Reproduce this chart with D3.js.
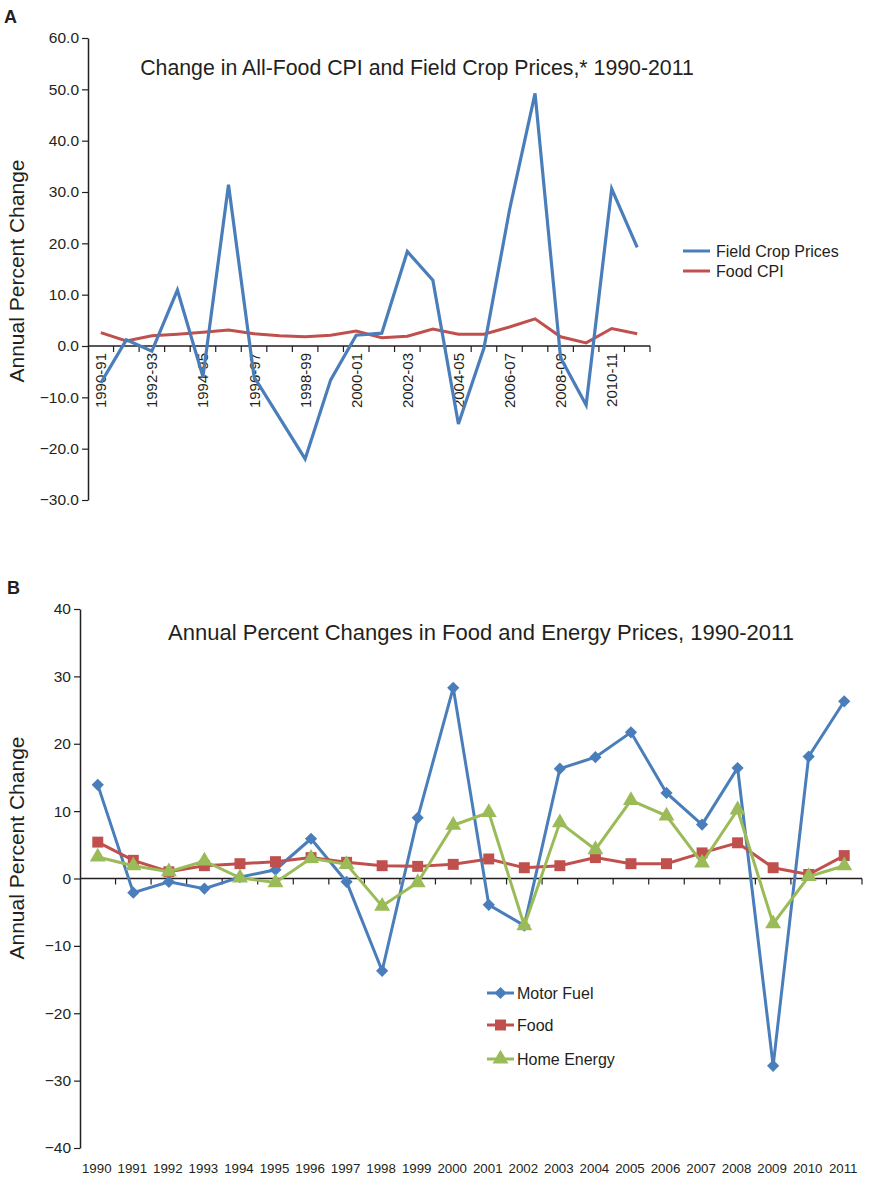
<!DOCTYPE html>
<html>
<head>
<meta charset="utf-8">
<script src="https://d3js.org/d3.v7.min.js"></script>
<style>
  body { margin: 0; background: #fff; }
  text { font-family: "Liberation Sans", Arial, sans-serif; fill: #231f20; }
</style>
</head>
<body>
<script>
	var width = 869;
	var height = 1179;

	// Panel A data
	var cropYears = ["1990-91", "1991-92", "1992-93", "1993-94", "1994-95", "1995-96", "1996-97", "1997-98",
		"1998-99", "1999-00", "2000-01", "2001-02", "2002-03", "2003-04", "2004-05", "2005-06",
		"2006-07", "2007-08", "2008-09", "2009-10", "2010-11", "2011-12"]
	var fieldCrop = [-7.2, 1.2, -1.0, 10.9, -6.0, 31.4, -6.0, -14.0, -22.0, -6.6, 2.1, 2.5,
		18.4, 12.8, -15.2, -0.4, 26.5, 49.2, -2.3, -11.5, 30.6, 19.2]
	var foodCpi = [2.6, 1.0, 2.0, 2.3, 2.7, 3.1, 2.4, 2.0, 1.8, 2.1, 2.9, 1.6,
		1.9, 3.3, 2.3, 2.3, 3.7, 5.3, 1.8, 0.6, 3.4, 2.4]
	var ticksA = [60, 50, 40, 30, 20, 10, 0, -10, -20, -30]

	// Panel B data
	var years = ["1990", "1991", "1992", "1993", "1994", "1995", "1996", "1997", "1998", "1999", "2000",
		"2001", "2002", "2003", "2004", "2005", "2006", "2007", "2008", "2009", "2010", "2011"]
	var motorFuel = [13.9, -2.1, -0.5, -1.5, 0.2, 1.3, 5.9, -0.5, -13.7, 9.0, 28.3,
		-3.9, -7.0, 16.3, 18.0, 21.7, 12.7, 8.0, 16.4, -27.8, 18.1, 26.3]
	var food = [5.4, 2.7, 1.0, 1.9, 2.2, 2.5, 3.1, 2.4, 1.9, 1.8, 2.1,
		2.9, 1.6, 1.9, 3.1, 2.2, 2.2, 3.8, 5.3, 1.6, 0.6, 3.4]
	var homeEnergy = [3.2, 1.9, 1.0, 2.6, 0.1, -0.6, 3.0, 2.1, -4.1, -0.6, 7.9,
		9.8, -7.0, 8.3, 4.3, 11.6, 9.3, 2.3, 10.2, -6.7, 0.3, 1.9]
	var ticksB = [40, 30, 20, 10, 0, -10, -20, -30, -40]

	var blue = "#4a7ebb", red = "#c0504d", green = "#9bbb59", ink = "#231f20"

	var svg = d3.select("body")
		.append("svg")
		.attr("width", width)
		.attr("height", height)

	function styleAxis(g) {
		g.select(".domain").attr("stroke", ink).attr("stroke-width", 1.5)
		g.selectAll(".tick line").attr("stroke", ink).attr("stroke-width", 1.2)
		g.selectAll(".tick text").style("font-size", "15.5px").attr("fill", ink)
	}

	// ---------- Panel A ----------
	svg.append("text").attr("x", 4).attr("y", 23)
		.style("font-size", "18px").style("font-weight", "bold").text("A")

	var xA = d3.scaleBand().domain(cropYears).range([88, 650])
	var yA = d3.scaleLinear().domain([-30, 60]).range([500, 38])

	svg.append("g")
		.attr("transform", "translate(88,0)")
		.call(d3.axisLeft(yA).tickValues(ticksA).tickFormat(d3.format(".1f")).tickSize(6).tickSizeOuter(0))
		.call(styleAxis)

	// category axis on the zero line, ticks on band boundaries
	var gxA = svg.append("g").attr("transform", "translate(0," + yA(0) + ")")
	gxA.append("line").attr("x1", 88).attr("x2", 650).attr("stroke", ink).attr("stroke-width", 1.5)
	gxA.selectAll(".tk").data(cropYears).enter().append("line")
		.attr("x1", d => xA(d) + xA.bandwidth()).attr("x2", d => xA(d) + xA.bandwidth())
		.attr("y1", 0).attr("y2", 6).attr("stroke", ink).attr("stroke-width", 1.2)
	gxA.selectAll(".lbl").data(cropYears.filter((d, i) => i % 2 == 0)).enter().append("text")
		.attr("transform", d => "translate(" + (xA(d) + xA.bandwidth() / 2 + 5.5) + ",7) rotate(-90)")
		.attr("text-anchor", "end")
		.style("font-size", "15px")
		.text(d => d)

	var lineA = d3.line()
		.x((d, i) => xA(cropYears[i]) + xA.bandwidth() / 2)
		.y(d => yA(d))

	svg.append("path").datum(foodCpi).attr("d", lineA)
		.attr("fill", "none").attr("stroke", red).attr("stroke-width", 3)
	svg.append("path").datum(fieldCrop).attr("d", lineA)
		.attr("fill", "none").attr("stroke", blue).attr("stroke-width", 3.2)

	svg.append("text").attr("x", 417).attr("y", 75).attr("text-anchor", "middle")
		.style("font-size", "21.3px").text("Change in All-Food CPI and Field Crop Prices,* 1990-2011")

	svg.append("text")
		.attr("transform", "translate(24,271) rotate(-90)")
		.attr("text-anchor", "middle")
		.style("font-size", "21px")
		.text("Annual Percent Change")

	var legendA = [["Field Crop Prices", blue], ["Food CPI", red]]
	legendA.forEach(function(l, i) {
		var y = 251 + i * 20
		svg.append("line").attr("x1", 683).attr("x2", 710).attr("y1", y).attr("y2", y)
			.attr("stroke", l[1]).attr("stroke-width", 3)
		svg.append("text").attr("x", 716).attr("y", y + 5.5).style("font-size", "16px").text(l[0])
	})

	// ---------- Panel B ----------
	svg.append("text").attr("x", 7).attr("y", 594)
		.style("font-size", "18px").style("font-weight", "bold").text("B")

	var xB = d3.scaleBand().domain(years).range([80, 862])
	var yB = d3.scaleLinear().domain([-40, 40]).range([1148, 609])

	svg.append("g")
		.attr("transform", "translate(80,0)")
		.call(d3.axisLeft(yB).tickValues(ticksB).tickSize(6).tickSizeOuter(0))
		.call(styleAxis)

	var gxB = svg.append("g").attr("transform", "translate(0," + yB(0) + ")")
	gxB.append("line").attr("x1", 80).attr("x2", 862).attr("stroke", ink).attr("stroke-width", 1.5)
	gxB.selectAll(".tk").data(years).enter().append("line")
		.attr("x1", d => xB(d) + xB.bandwidth()).attr("x2", d => xB(d) + xB.bandwidth())
		.attr("y1", 0).attr("y2", 6).attr("stroke", ink).attr("stroke-width", 1.2)

	svg.selectAll(".yl").data(years).enter().append("text")
		.attr("x", d => xB(d) + xB.bandwidth() / 2 - 1)
		.attr("y", 1173)
		.attr("text-anchor", "middle")
		.style("font-size", "13.3px")
		.text(d => d)

	var lineB = d3.line()
		.x((d, i) => xB(years[i]) + xB.bandwidth() / 2)
		.y(d => yB(d))

	var seriesB = [
		{ name: "Motor Fuel", values: motorFuel, color: blue, shape: d3.symbolDiamond2, size: 95 },
		{ name: "Food", values: food, color: red, shape: d3.symbolSquare, size: 120 },
		{ name: "Home Energy", values: homeEnergy, color: green, shape: d3.symbolTriangle, size: 110 }
	]

	seriesB.forEach(function(s) {
		svg.append("path").datum(s.values).attr("d", lineB)
			.attr("fill", "none").attr("stroke", s.color).attr("stroke-width", 3)
		svg.selectAll(null).data(s.values).enter().append("path")
			.attr("d", d3.symbol().type(s.shape).size(s.size))
			.attr("transform", (d, i) => "translate(" + (xB(years[i]) + xB.bandwidth() / 2) + "," + yB(d) + ")")
			.attr("fill", s.color)
	})

	svg.append("text").attr("x", 481).attr("y", 640).attr("text-anchor", "middle")
		.style("font-size", "22px").text("Annual Percent Changes in Food and Energy Prices, 1990-2011")

	svg.append("text")
		.attr("transform", "translate(24,848) rotate(-90)")
		.attr("text-anchor", "middle")
		.style("font-size", "21px")
		.text("Annual Percent Change")

	var legendY = [993, 1025, 1059]
	seriesB.forEach(function(s, i) {
		var y = legendY[i]
		svg.append("line").attr("x1", 487).attr("x2", 514).attr("y1", y).attr("y2", y)
			.attr("stroke", s.color).attr("stroke-width", 3)
		svg.append("path").attr("d", d3.symbol().type(s.shape).size(s.size))
			.attr("transform", "translate(500.5," + y + ")").attr("fill", s.color)
		svg.append("text").attr("x", 517).attr("y", y + 5.5).style("font-size", "16px").text(s.name)
	})
</script>
</body>
</html>
